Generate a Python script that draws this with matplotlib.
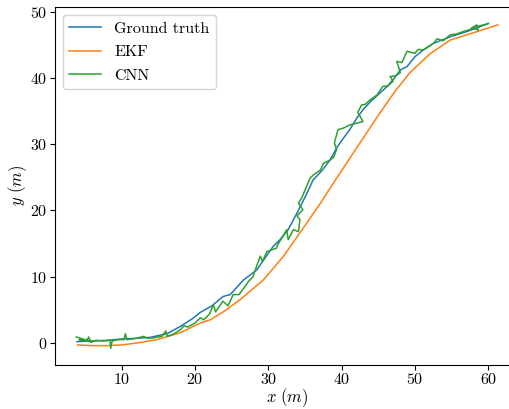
import matplotlib
matplotlib.use("Agg")
import matplotlib.pyplot as plt

plt.rcParams["font.family"] = "serif"
plt.rcParams["font.serif"] = ["cmr10"]
plt.rcParams["mathtext.fontset"] = "cm"
plt.rcParams["axes.formatter.use_mathtext"] = True

# ground truth trajectory (m)
gt_x = [3.9, 6.0, 8.0, 10.0, 12.0, 13.9, 16.2, 18.0, 19.7, 20.7, 22.3, 23.8, 24.8,
        26.6, 28.4, 30.6, 31.6, 32.7, 33.9, 35.0, 36.1, 37.3, 38.4, 39.4, 40.3,
        41.1, 42.1, 42.9, 44.0, 45.0, 46.2, 47.2, 48.0, 48.9, 50.0, 51.1, 52.5,
        54.8, 57.1, 60.0]
gt_y = [0.2, 0.3, 0.4, 0.6, 0.7, 0.85, 1.4, 2.5, 3.7, 4.6, 5.6, 7.0, 7.3,
        9.5, 11.0, 14.5, 15.6, 17.1, 19.6, 22.0, 24.6, 26.0, 27.6, 29.6, 31.0,
        32.2, 34.0, 35.2, 36.5, 37.5, 38.7, 40.0, 41.2, 41.7, 43.2, 44.2, 45.2,
        46.2, 47.0, 48.2]

# EKF estimate (m)
ekf_x = [4.0, 6.0, 8.0, 10.0, 12.1, 14.8, 18.0, 20.7, 22.1, 24.0, 26.1, 29.3,
         32.0, 34.3, 37.1, 39.5, 42.5, 45.2, 47.3, 49.3, 52.0, 54.8, 58.5, 61.3]
ekf_y = [-0.3, -0.4, -0.4, -0.3, 0.0, 0.5, 1.55, 3.0, 3.5, 4.8, 6.5, 9.5,
         13.0, 16.6, 21.1, 25.2, 30.2, 34.7, 38.0, 40.8, 43.6, 45.7, 47.0, 48.0]

# CNN estimate (m)
cnn_x = [3.8, 5.9, 4.2, 5.2, 5.5, 5.8, 6.5, 7.5, 8.4, 8.5, 8.7, 9.5, 10.3, 10.5,
         10.7, 11.5, 12.3, 13.0, 13.5, 14.5, 15.5, 16.0, 16.2, 17.0, 18.0, 18.5,
         19.0, 20.0, 20.7, 21.2, 22.0, 22.5, 22.8, 23.8, 24.5, 25.2, 26.0, 26.8,
         27.3, 27.9, 28.4, 28.9, 29.2, 29.8, 31.1, 31.3, 32.0, 32.5, 32.7, 32.9,
         33.4, 34.1, 34.3, 33.9, 34.7, 34.1, 34.6, 35.2, 35.7, 36.2, 37.1, 37.5,
         38.4, 38.9, 39.3, 39.0, 39.5, 40.2, 41.1, 42.9, 42.5, 42.2, 42.7, 43.2,
         43.9, 44.8, 45.6, 46.3, 47.0, 46.6, 47.3, 48.0, 47.5, 48.2, 48.9, 50.0,
         50.4, 51.1, 52.5, 53.0, 53.8, 54.8, 55.6, 56.6, 57.5, 58.4, 58.6, 57.8,
         59.0, 60.0]
cnn_y = [0.9, 0.2, 0.5, 0.3, 0.9, 0.1, 0.4, 0.3, 0.4, -0.8, 0.3, 0.5, 0.5, 1.4,
         0.5, 0.6, 0.8, 1.0, 0.7, 0.8, 1.0, 1.8, 1.0, 1.3, 2.0, 2.6,
         2.4, 3.0, 3.8, 3.5, 4.4, 5.8, 4.7, 6.3, 5.6, 7.3, 7.3, 8.5,
         9.3, 10.0, 11.6, 13.1, 12.3, 13.8, 14.3, 14.9, 16.1, 17.1, 15.6, 16.0,
         17.1, 16.8, 18.6, 19.2, 20.1, 21.1, 22.0, 23.6, 24.9, 25.4, 26.1, 27.1,
         27.6, 28.0, 29.2, 30.2, 32.2, 32.4, 32.9, 33.4, 34.2, 34.8, 35.9, 36.0,
         36.7, 37.4, 38.7, 38.8, 39.5, 40.2, 40.3, 40.8, 42.5, 42.3, 44.0, 43.7,
         44.3, 44.2, 45.2, 45.9, 45.6, 46.5, 46.6, 47.0, 47.3, 48.0, 47.2, 47.6,
         47.9, 48.2]

fig = plt.figure(figsize=(5.09, 4.09), dpi=100)
ax = fig.add_axes([0.108, 0.108, 0.912, 0.875])

ax.plot(gt_x, gt_y, color="C0", lw=1.1, label="Ground truth")
ax.plot(ekf_x, ekf_y, color="C1", lw=1.1, label="EKF")
ax.plot(cnn_x, cnn_y, color="C2", lw=1.1, label="CNN")

ax.set_xlim(0.9, 64.2)
ax.set_ylim(-3.3, 50.7)
ax.set_xticks([10, 20, 30, 40, 50, 60])
ax.set_yticks([0, 10, 20, 30, 40, 50])
ax.tick_params(labelsize=11.5, pad=2)
ax.set_xlabel(r"$x\ (m)$", fontsize=12, labelpad=-1)
ax.set_ylabel(r"$y\ (m)$", fontsize=12, labelpad=1)
ax.legend(loc="upper left", fontsize=11.5, labelspacing=0.6)

fig.savefig("out.png", dpi=100)
